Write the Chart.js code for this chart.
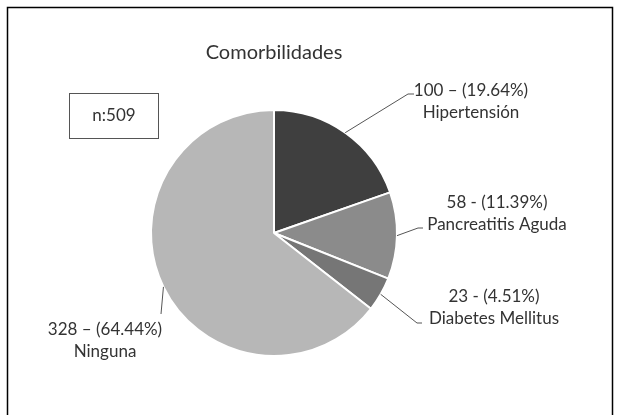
<!DOCTYPE html>
<html>
<head>
<meta charset="utf-8">
<script src="https://cdn.jsdelivr.net/npm/chart.js@4/dist/chart.umd.min.js"></script>
<style>
  html, body { margin: 0; padding: 0; background: #fff; }
  #wrap { width: 621px; height: 415px; position: relative; }
</style>
</head>
<body>
<div id="wrap"><canvas id="grafik"></canvas></div>
<script>
// datos
const categorias = ['Hipertensión', 'Pancreatitis Aguda', 'Diabetes Mellitus', 'Ninguna'];
const casos = [100, 58, 23, 328];
const porcentajes = ['19.64%', '11.39%', '4.51%', '64.44%'];
const separadores = ['–', '-', '-', '–'];
const totalN = 509;

const colores = ['#3f3f3f', '#8b8b8b', '#767676', '#b7b7b7'];
const fuente = 'Lato, "Liberation Sans", sans-serif';
const colorTexto = '#333333';

// posicion de etiquetas y lineas guia, relativo al centro del pie
const etiquetas = [
    { tx: 197, ty: -142, fin: [134, -139], tick: 6 },
    { tx: 223, ty: -30, fin: [144, -5], tick: 5 },
    { tx: 220, ty: 64, fin: [143, 90], tick: 5 },
    { tx: -169, ty: 97, fin: [-113, 81], tick: 0 }
];

const pluginEtiquetas = {
    id: 'etiquetas',
    afterDraw(chart) {
        const ctx = chart.ctx;
        const arcs = chart.getDatasetMeta(0).data;
        ctx.save();

        // marco exterior
        ctx.strokeStyle = '#000';
        ctx.lineWidth = 1.5;
        ctx.strokeRect(7.5, 7.5, 605, 420);

        // caja n
        ctx.strokeStyle = '#555';
        ctx.lineWidth = 1;
        ctx.strokeRect(69.5, 93.5, 89, 45);
        ctx.fillStyle = colorTexto;
        ctx.font = '17px ' + fuente;
        ctx.textAlign = 'center';
        ctx.textBaseline = 'middle';
        ctx.fillText('n:' + totalN, 114, 116);

        arcs.forEach((arc, i) => {
            const p = arc.getProps(['x', 'y', 'startAngle', 'endAngle', 'outerRadius'], true);
            const mid = (p.startAngle + p.endAngle) / 2;
            const sx = p.x + Math.cos(mid) * p.outerRadius;
            const sy = p.y + Math.sin(mid) * p.outerRadius;
            const e = etiquetas[i];
            const ex = p.x + e.fin[0];
            const ey = p.y + e.fin[1];

            ctx.strokeStyle = '#555';
            ctx.lineWidth = 1;
            ctx.beginPath();
            ctx.moveTo(sx, sy);
            ctx.lineTo(ex, ey);
            if (e.tick) ctx.lineTo(ex + e.tick, ey);
            ctx.stroke();

            ctx.fillStyle = colorTexto;
            ctx.font = '17px ' + fuente;
            ctx.textAlign = 'center';
            ctx.textBaseline = 'middle';
            ctx.fillText(casos[i] + ' ' + separadores[i] + ' (' + porcentajes[i] + ')', p.x + e.tx, p.y + e.ty);
            ctx.fillText(categorias[i], p.x + e.tx, p.y + e.ty + 22);
        });
        ctx.restore();
    }
};

const grafik = new Chart(document.getElementById('grafik'), {
    type: 'pie',
    data: {
        labels: categorias,
        datasets: [{
            data: casos,
            backgroundColor: colores,
            borderColor: '#ffffff',
            borderWidth: 2
        }]
    },
    options: {
        responsive: true,
        maintainAspectRatio: false,
        animation: false,
        layout: {
            padding: { top: 41, bottom: 58, left: 150, right: 223 }
        },
        plugins: {
            legend: { display: false },
            tooltip: { enabled: false },
            title: {
                display: true,
                text: 'Comorbilidades',
                color: colorTexto,
                font: { family: fuente, size: 20, weight: 'normal' },
                padding: { top: 0, bottom: 44 }
            }
        }
    },
    plugins: [pluginEtiquetas]
});
</script>
</body>
</html>
